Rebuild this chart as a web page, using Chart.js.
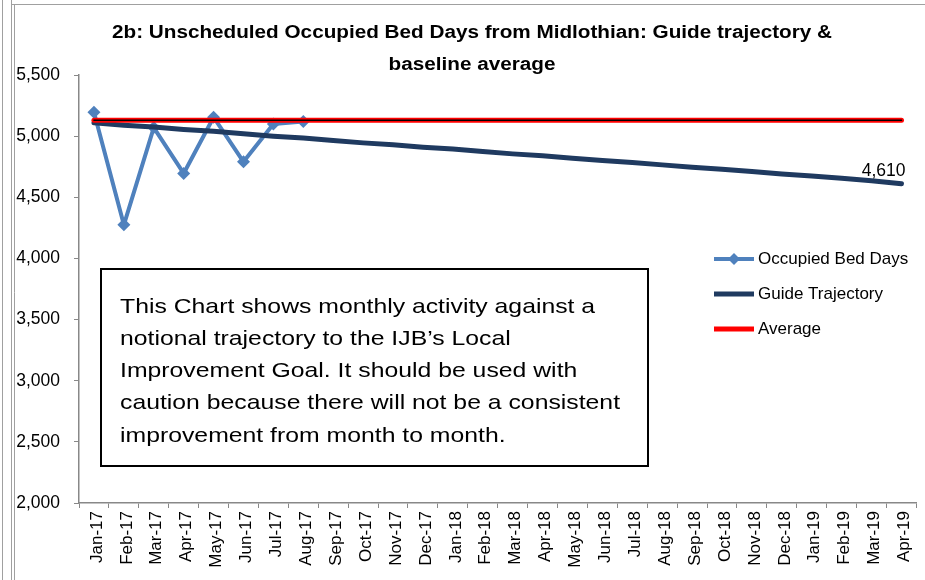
<!DOCTYPE html>
<html>
<head>
<meta charset="utf-8">
<script src="https://cdn.jsdelivr.net/npm/chart.js@4"></script>
<style>
  html, body { margin: 0; padding: 0; background: #fff; }
  #wrap { position: relative; width: 925px; height: 580px; }
</style>
</head>
<body>
<div id="wrap"><canvas id="bedChart" width="925" height="580"></canvas></div>
<script>
// data
const months = ['Jan-17','Feb-17','Mar-17','Apr-17','May-17','Jun-17','Jul-17','Aug-17','Sep-17','Oct-17','Nov-17','Dec-17',
                'Jan-18','Feb-18','Mar-18','Apr-18','May-18','Jun-18','Jul-18','Aug-18','Sep-18','Oct-18','Nov-18','Dec-18',
                'Jan-19','Feb-19','Mar-19','Apr-19'];
const occupiedBedDays = [5195, 4275, 5070, 4695, 5155, 4790, 5100, 5120, null, null, null, null,
                         null, null, null, null, null, null, null, null, null, null, null, null,
                         null, null, null, null];
const guideTrajectory = [5110, 5090, 5075, 5055, 5040, 5020, 5000, 4985, 4965, 4945, 4930, 4910,
                         4895, 4875, 4855, 4840, 4820, 4800, 4785, 4765, 4745, 4730, 4710, 4690,
                         4675, 4655, 4635, 4610];
const average = [5130, 5130, 5130, 5130, 5130, 5130, 5130, 5130, 5130, 5130, 5130, 5130,
                 5130, 5130, 5130, 5130, 5130, 5130, 5130, 5130, 5130, 5130, 5130, 5130,
                 5130, 5130, 5130, 5130];
const yTicks = [2000, 2500, 3000, 3500, 4000, 4500, 5000, 5500];

const titleLines = ['2b: Unscheduled Occupied Bed Days from Midlothian: Guide trajectory &', 'baseline average'];
const noteLines = [
    'This Chart shows monthly activity against a',
    'notional trajectory to the IJB\u2019s Local',
    'Improvement Goal. It should be used with',
    'caution because there will not be a consistent',
    'improvement from month to month.'
];

const BLUE = '#4F81BD';
const NAVY = '#1F3A60';
const RED = '#FF0000';
const AXIS = '#888888';
const FONT = '"Liberation Sans", Arial, sans-serif';
const fmt = v => v.toLocaleString('en-GB');

// text stretched sideways, like the source rendering
function wideText(ctx, text, x, y, sx) {
    ctx.save();
    ctx.translate(x, y);
    ctx.scale(sx, 1);
    ctx.fillText(text, 0, 0);
    ctx.restore();
}

// frame, title, note box, legend and end label
const decor = {
    id: 'decor',
    beforeDraw(chart) {
        const ctx = chart.ctx;
        ctx.save();
        ctx.fillStyle = '#fff';
        ctx.fillRect(0, 0, chart.width, chart.height);
        ctx.strokeStyle = '#a0a0a0';
        ctx.lineWidth = 1;
        ctx.beginPath();
        ctx.moveTo(2.5, 0); ctx.lineTo(2.5, 580);
        ctx.moveTo(11.5, 0); ctx.lineTo(11.5, 580);
        ctx.moveTo(14.5, 5); ctx.lineTo(14.5, 580);
        ctx.moveTo(11, 4.5); ctx.lineTo(925, 4.5);
        ctx.stroke();

        ctx.fillStyle = '#000';
        ctx.font = 'bold 18px ' + FONT;
        ctx.textAlign = 'center';
        ctx.textBaseline = 'middle';
        wideText(ctx, titleLines[0], 472, 33, 1.15);
        wideText(ctx, titleLines[1], 472, 65, 1.15);
        ctx.restore();
    },
    afterDraw(chart) {
        const ctx = chart.ctx;
        const x = chart.scales.x, y = chart.scales.y;
        ctx.save();

        // note box
        ctx.fillStyle = '#fff';
        ctx.fillRect(100, 268, 549, 199);
        ctx.strokeStyle = '#000';
        ctx.lineWidth = 2;
        ctx.strokeRect(101, 269, 547, 197);
        ctx.fillStyle = '#000';
        ctx.font = '21px ' + FONT;
        ctx.textAlign = 'left';
        ctx.textBaseline = 'middle';
        noteLines.forEach((t, i) => wideText(ctx, t, 120, 307 + i * 32.2, 1.18));

        // legend
        const ds = chart.data.datasets.filter(d => d.label);
        ctx.font = '17px ' + FONT;
        ds.forEach((d, i) => {
            const ly = 259 + i * 35;
            ctx.strokeStyle = d.borderColor;
            ctx.lineWidth = d.borderWidth;
            ctx.beginPath();
            ctx.moveTo(714, ly); ctx.lineTo(754, ly);
            ctx.stroke();
            if (d.pointRadius) {
                ctx.fillStyle = d.pointBackgroundColor;
                const r = 6;
                ctx.beginPath();
                ctx.moveTo(734, ly - r); ctx.lineTo(734 + r, ly);
                ctx.lineTo(734, ly + r); ctx.lineTo(734 - r, ly);
                ctx.closePath(); ctx.fill();
            }
            ctx.fillStyle = '#000';
            ctx.fillText(d.label, 758, ly);
        });

        // value label on last trajectory point
        const last = guideTrajectory.length - 1;
        const px = x.getPixelForValue(last);
        const py = y.getPixelForValue(guideTrajectory[last]);
        ctx.font = '17.5px ' + FONT;
        ctx.textAlign = 'right';
        ctx.textBaseline = 'alphabetic';
        ctx.fillText(fmt(guideTrajectory[last]), px + 4, py - 8);
        ctx.restore();
    }
};

new Chart(document.getElementById('bedChart'), {
    type: 'line',
    data: {
        labels: months,
        datasets: [
            { data: average, borderColor: '#000', borderWidth: 1.5, pointRadius: 0, order: 0 },
            { label: 'Occupied Bed Days', data: occupiedBedDays, borderColor: BLUE, borderWidth: 4,
              pointStyle: 'rectRot', pointRadius: 6.5, pointBackgroundColor: BLUE, pointBorderColor: BLUE,
              pointBorderWidth: 0, order: 3 },
            { label: 'Guide Trajectory', data: guideTrajectory, borderColor: NAVY, borderWidth: 5,
              pointRadius: 0, order: 2 },
            { label: 'Average', data: average, borderColor: RED, borderWidth: 5, pointRadius: 0, order: 1 }
        ]
    },
    options: {
        responsive: false,
        animation: false,
        spanGaps: false,
        layout: { padding: { top: 75, right: 7, bottom: 0, left: 0 } },
        plugins: { legend: { display: false }, title: { display: false }, tooltip: { enabled: false } },
        elements: { line: { tension: 0, borderCapStyle: 'round', borderJoinStyle: 'round' } },
        scales: {
            x: {
                offset: true,
                grid: { offset: true, drawOnChartArea: false, drawTicks: true, tickLength: 5, color: AXIS },
                border: { color: AXIS, width: 1.5 },
                ticks: {
                    autoSkip: false, minRotation: 90, maxRotation: 90, color: '#000', padding: 3,
                    labelOffset: 3, font: { family: FONT, size: 17 }
                },
                afterFit: s => { s.height = 77; }
            },
            y: {
                min: 2000, max: 5500,
                afterBuildTicks: s => { s.ticks = yTicks.map(v => ({ value: v })); },
                grid: { drawOnChartArea: false, drawTicks: true, tickLength: 5, color: AXIS },
                border: { color: AXIS, width: 1.5 },
                ticks: {
                    color: '#000', padding: 14, callback: v => fmt(v),
                    font: { family: FONT, size: 17.5 }
                },
                afterFit: s => { s.width = 79; }
            }
        }
    },
    plugins: [decor]
});
</script>
</body>
</html>
